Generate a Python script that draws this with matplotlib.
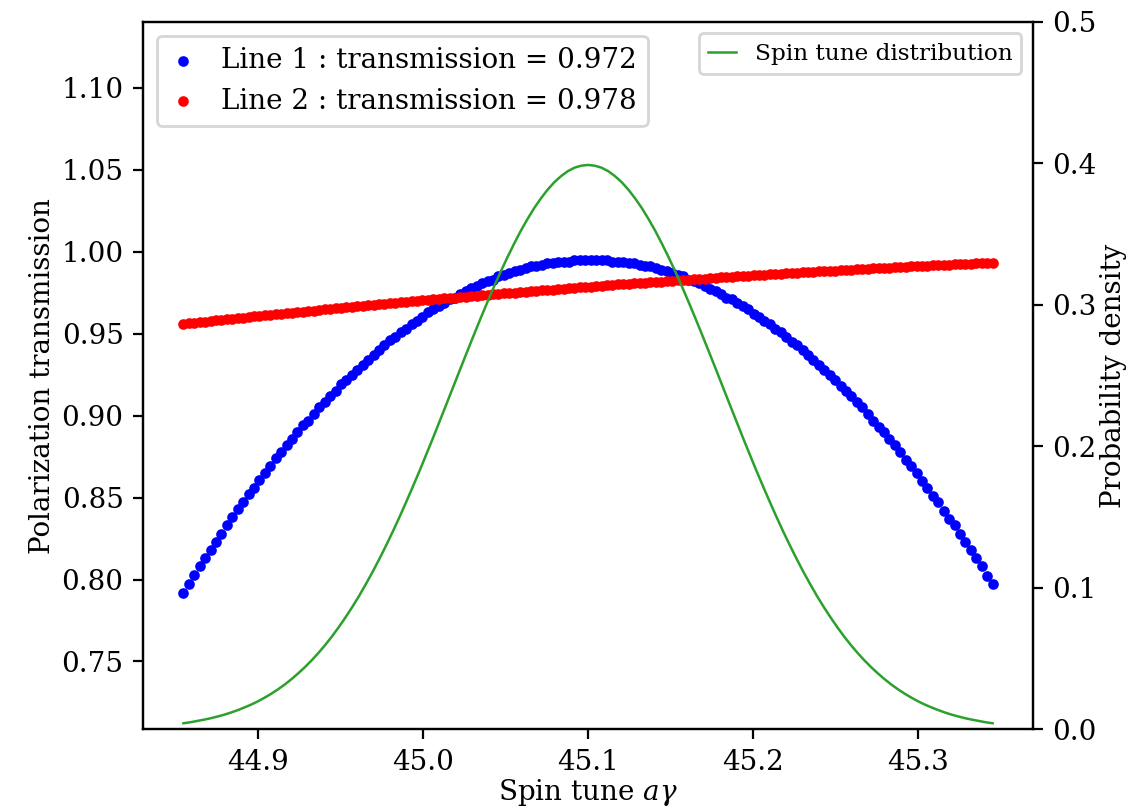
import numpy as np
import matplotlib
matplotlib.use("Agg")
import matplotlib.pyplot as plt

plt.rcParams["font.family"] = "DejaVu Serif"
plt.rcParams["mathtext.fontset"] = "dejavuserif"
plt.rcParams["font.size"] = 10

# spin tune grid (150 points)
x_start, x_end, n_pts = 44.855, 45.345, 150
spin_tune = np.linspace(x_start, x_end, n_pts)

# Line 1 (blue dots)
line1 = [
    0.792, 0.797, 0.803, 0.808, 0.813, 0.818, 0.823, 0.828, 0.833, 0.838,
    0.843, 0.847, 0.852, 0.856, 0.861, 0.865, 0.869, 0.874, 0.878, 0.882,
    0.886, 0.890, 0.894, 0.897, 0.901, 0.905, 0.908, 0.912, 0.915, 0.919,
    0.922, 0.925, 0.928, 0.931, 0.934, 0.937, 0.940, 0.943, 0.946, 0.948,
    0.951, 0.953, 0.956, 0.958, 0.960, 0.963, 0.965, 0.967, 0.969, 0.971,
    0.972, 0.974, 0.976, 0.978, 0.979, 0.981, 0.982, 0.983, 0.985, 0.986,
    0.987, 0.988, 0.989, 0.990, 0.991, 0.991, 0.992, 0.993, 0.993, 0.994,
    0.994, 0.994, 0.995, 0.995, 0.995, 0.995, 0.995, 0.995, 0.995, 0.994,
    0.994, 0.994, 0.993, 0.993, 0.992, 0.991, 0.991, 0.990, 0.989, 0.988,
    0.987, 0.986, 0.985, 0.983, 0.982, 0.981, 0.979, 0.977, 0.976, 0.974,
    0.972, 0.971, 0.969, 0.967, 0.965, 0.962, 0.960, 0.958, 0.956, 0.953,
    0.951, 0.948, 0.945, 0.943, 0.940, 0.937, 0.934, 0.931, 0.928, 0.925,
    0.922, 0.918, 0.915, 0.912, 0.908, 0.905, 0.901, 0.897, 0.893, 0.890,
    0.886, 0.882, 0.878, 0.873, 0.869, 0.865, 0.860, 0.856, 0.851, 0.847,
    0.842, 0.837, 0.833, 0.828, 0.823, 0.818, 0.813, 0.808, 0.802, 0.797,
]

# Line 2 (red dots)
line2 = [
    0.9560, 0.9564, 0.9567, 0.9571, 0.9574, 0.9578, 0.9581, 0.9585, 0.9588, 0.9592,
    0.9595, 0.9598, 0.9602, 0.9605, 0.9608, 0.9612, 0.9615, 0.9618, 0.9622, 0.9625,
    0.9628, 0.9632, 0.9635, 0.9638, 0.9641, 0.9645, 0.9648, 0.9651, 0.9654, 0.9657,
    0.9661, 0.9664, 0.9667, 0.9670, 0.9673, 0.9676, 0.9679, 0.9682, 0.9685, 0.9688,
    0.9691, 0.9694, 0.9697, 0.9700, 0.9703, 0.9706, 0.9709, 0.9712, 0.9715, 0.9718,
    0.9720, 0.9723, 0.9726, 0.9729, 0.9732, 0.9734, 0.9737, 0.9740, 0.9743, 0.9745,
    0.9748, 0.9751, 0.9753, 0.9756, 0.9759, 0.9762, 0.9764, 0.9767, 0.9769, 0.9772,
    0.9775, 0.9777, 0.9780, 0.9782, 0.9785, 0.9787, 0.9790, 0.9792, 0.9795, 0.9797,
    0.9800, 0.9802, 0.9804, 0.9807, 0.9809, 0.9812, 0.9814, 0.9816, 0.9818, 0.9821,
    0.9823, 0.9825, 0.9828, 0.9830, 0.9832, 0.9834, 0.9836, 0.9839, 0.9841, 0.9843,
    0.9845, 0.9847, 0.9849, 0.9851, 0.9854, 0.9856, 0.9858, 0.9860, 0.9862, 0.9864,
    0.9866, 0.9868, 0.9870, 0.9872, 0.9874, 0.9876, 0.9878, 0.9880, 0.9881, 0.9883,
    0.9885, 0.9887, 0.9889, 0.9891, 0.9893, 0.9894, 0.9896, 0.9898, 0.9900, 0.9901,
    0.9903, 0.9905, 0.9906, 0.9908, 0.9910, 0.9911, 0.9913, 0.9914, 0.9916, 0.9918,
    0.9919, 0.9921, 0.9922, 0.9924, 0.9925, 0.9927, 0.9928, 0.9930, 0.9931, 0.9933,
]

# spin tune distribution (green line), 121 points over the same range
dist_x = np.linspace(x_start, x_end, 121)
dist_half = [
    0.0044, 0.0051, 0.0060, 0.0069, 0.0079, 0.0091, 0.0104, 0.0119, 0.0136, 0.0155,
    0.0175, 0.0198, 0.0224, 0.0252, 0.0283, 0.0317, 0.0355, 0.0396, 0.0440, 0.0488,
    0.0540, 0.0596, 0.0656, 0.0721, 0.0790, 0.0863, 0.0940, 0.1023, 0.1109, 0.1200,
    0.1295, 0.1394, 0.1497, 0.1604, 0.1714, 0.1826, 0.1942, 0.2059, 0.2179, 0.2299,
    0.2420, 0.2541, 0.2661, 0.2780, 0.2897, 0.3011, 0.3123, 0.3230, 0.3332, 0.3429,
    0.3521, 0.3605, 0.3683, 0.3752, 0.3814, 0.3867, 0.3910, 0.3945, 0.3970, 0.3984,
]
dist_peak = 0.3989
dist_y = dist_half + [dist_peak] + dist_half[::-1]

fig = plt.figure(figsize=(5.725, 4.055), dpi=200)
ax = fig.add_axes([0.1249, 0.1005, 0.7773, 0.8725])

ax.scatter(spin_tune, line1, s=8, color="blue", label="Line 1 : transmission = 0.972")
ax.scatter(spin_tune, line2, s=8, color="red", label="Line 2 : transmission = 0.978")
ax.set_ylim(0.7085, 1.1402)
ax.set_xlabel(r"Spin tune $a\gamma$", labelpad=0.5)
ax.set_ylabel("Polarization transmission", labelpad=2)
ax.legend(loc="upper left", handlelength=1.1)

ax2 = ax.twinx()
ax2.plot(dist_x, dist_y, color="tab:green", lw=0.9, label="Spin tune distribution")
ax2.set_ylim(0, 0.5)
ax2.set_ylabel("Probability density", labelpad=1)
ax2.legend(loc="upper right", fontsize="small", handlelength=1.2)

fig.savefig("out.png", dpi=200)
